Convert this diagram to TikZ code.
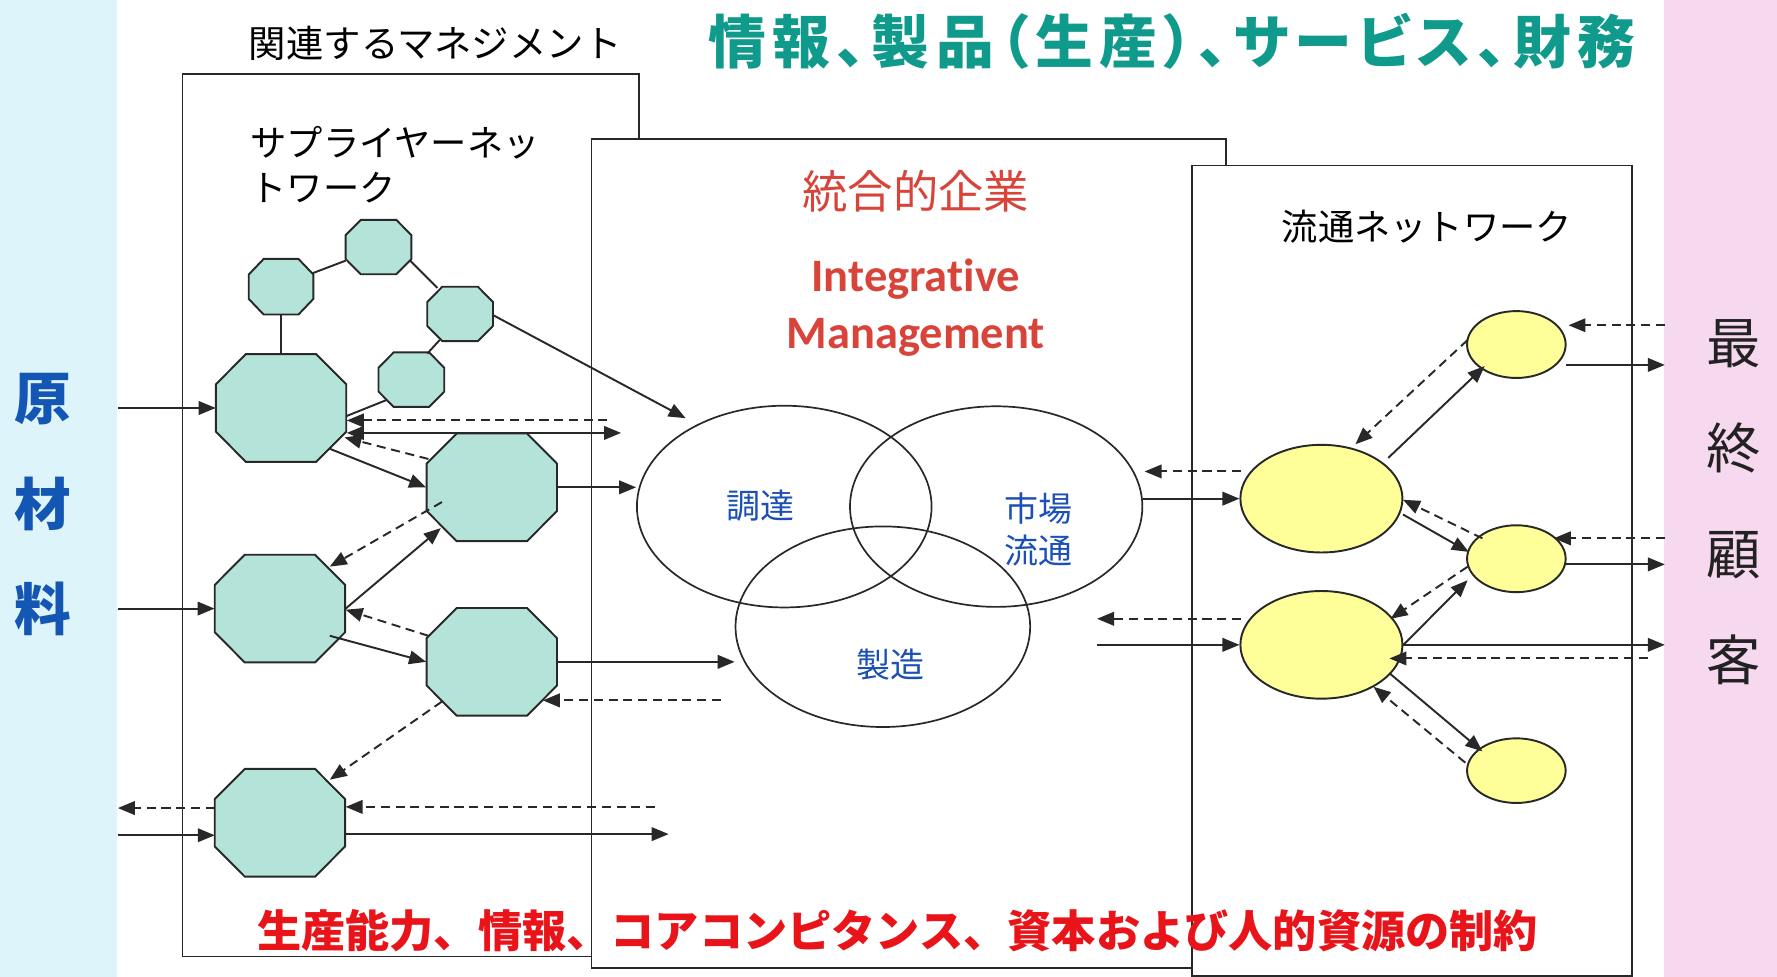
\documentclass[tikz,border=0pt]{standalone}
\usepackage{fontspec}
\setmainfont{Noto Sans CJK JP}
\newfontfamily\jp{Noto Sans CJK JP}
\newfontfamily\jpp{Noto Sans CJK JP}[RawFeature=+palt, LetterSpace=11]
\newfontfamily\latf{Carlito}[Ligatures=NoCommon]
\usetikzlibrary{arrows.meta,shapes.geometric,calc}
\definecolor{leftbg}{RGB}{221,244,251}
\definecolor{rightbg}{RGB}{247,217,239}
\definecolor{tealc}{RGB}{16,154,140}
\definecolor{redA}{RGB}{216,68,58}
\definecolor{redB}{RGB}{232,20,25}
\definecolor{blueV}{RGB}{28,80,180}
\definecolor{blueL}{RGB}{20,86,180}
\definecolor{octfill}{RGB}{180,227,218}
\definecolor{yelfill}{RGB}{255,255,153}
\definecolor{linec}{RGB}{40,40,40}
\definecolor{darktxt}{RGB}{34,34,34}
\tikzset{
  ln/.style={draw=linec, line width=1.7pt},
  arr/.style={ln, -{Triangle[length=15pt,width=12pt]}},
  darr/.style={arr, dash pattern=on 8pt off 5pt},
  dbl/.style={ln, {Triangle[length=15pt,width=12pt]}-{Triangle[length=15pt,width=12pt]}},
  oct/.style={fill=octfill, draw=linec, line width=1.7pt, line join=miter},
  octanchor/.style={ellipse, inner sep=0pt, draw=none},
  yel/.style={ellipse, inner sep=0pt, fill=yelfill, draw=linec, line width=1.7pt},
  venn/.style={ellipse, inner sep=0pt, draw=linec, line width=1.5pt},
  boxst/.style={draw=linec, line width=1.6pt, fill=white},
  jtxt/.style={inner sep=0pt, font=\jp\fontsize{#1}{#1}\selectfont},
}
\newcommand\octa[5]{%
  \node[octanchor, minimum width=#4pt, minimum height=#5pt] (#1) at (#2,#3) {};
  \draw[oct] ($(#1)+(-0.27*#4,-0.5*#5)$) -- ($(#1)+(0.27*#4,-0.5*#5)$)
    -- ($(#1)+(0.5*#4,-0.22*#5)$) -- ($(#1)+(0.5*#4,0.22*#5)$)
    -- ($(#1)+(0.27*#4,0.5*#5)$) -- ($(#1)+(-0.27*#4,0.5*#5)$)
    -- ($(#1)+(-0.5*#4,0.22*#5)$) -- ($(#1)+(-0.5*#4,-0.22*#5)$) -- cycle;
}
\begin{document}
\begin{tikzpicture}[x=1pt,y=-1pt]
\useasboundingbox (0,0) rectangle (1568,862);
\fill[white] (0,0) rectangle (1568,862);
\fill[leftbg] (0,0) rectangle (103,862);
\fill[rightbg] (1468,0) rectangle (1568,862);

% boxes
\path[boxst] (161,65) rectangle (564,844);
\path[boxst] (522,123) rectangle (1082,854);
\path[boxst] (1052,146) rectangle (1440,861);

% titles
\node[jtxt=33, text=black] (tMgmt) at (384,38) {関連するマネジメント};
\node[inner sep=0pt, text=tealc, font=\jpp\bfseries\fontsize{51}{51}\selectfont] (tFlow) at (1034,36) {情報、製品（生産）、サービス、財務};
\node[jtxt=32, anchor=west] (tSup1) at (221,126) {サプライヤーネッ};
\node[jtxt=32, anchor=west] (tSup2) at (221,166) {トワーク};
\node[jtxt=40, text=redA] (tEnt) at (808,169) {統合的企業};
\node[inner sep=0pt, text=redA, font=\latf\bfseries\fontsize{41}{41}\selectfont] (tInt) at (808,246) {Integrative};
\node[inner sep=0pt, text=redA, font=\latf\bfseries\fontsize{41}{41}\selectfont] (tMan) at (808,298) {Management};
\node[jtxt=32] (tDist) at (1259,200) {流通ネットワーク};

% side labels
\node[jtxt=50, text=blueL, font=\jp\bfseries\fontsize{50}{50}\selectfont] (r1) at (38,352) {原};
\node[jtxt=50, text=blueL, font=\jp\bfseries\fontsize{50}{50}\selectfont] (r2) at (38,445) {材};
\node[jtxt=50, text=blueL, font=\jp\bfseries\fontsize{50}{50}\selectfont] (r3) at (38,537) {料};
\node[jtxt=48, text=darktxt] (c1) at (1530,303) {最};
\node[jtxt=48, text=darktxt] (c2) at (1530,395) {終};
\node[jtxt=48, text=darktxt] (c3) at (1530,490) {顧};
\node[jtxt=48, text=darktxt] (c4) at (1530,582) {客};

% venn
\node[venn, minimum width=260pt, minimum height=178pt] (V1) at (692,447) {};
\node[venn, minimum width=258pt, minimum height=177pt] (V2) at (879,447) {};
\node[venn, minimum width=260pt, minimum height=177pt] (V3) at (779,553) {};
\node[jtxt=30, text=blueV] (vl1) at (671,446) {調達};
\node[jtxt=30, text=blueV] (vl2) at (916,449) {市場};
\node[jtxt=30, text=blueV] (vl3) at (916,486) {流通};
\node[jtxt=30, text=blueV] (vl4) at (786,586) {製造};

% octagons
\octa{O1}{248}{253}{57}{49}
\octa{O2}{334}{218}{58}{48}
\octa{O3}{406}{277}{58}{48}
\octa{O4}{363}{335}{58}{48}
\octa{L1}{248}{360}{115}{95}
\octa{L2}{434}{430}{115}{95}
\octa{L3}{247}{537}{115}{95}
\octa{L4}{434}{584}{115}{95}
\octa{L5}{247}{726}{115}{95}

% yellow
\node[yel, minimum width=143pt, minimum height=95pt] (Y1) at (1166,440) {};
\node[yel, minimum width=143pt, minimum height=95pt] (Y2) at (1166,569) {};
\node[yel, minimum width=87pt, minimum height=59pt] (Y3) at (1338,304) {};
\node[yel, minimum width=87pt, minimum height=59pt] (Y4) at (1338,493) {};
\node[yel, minimum width=87pt, minimum height=57pt] (Y5) at (1338,680) {};

% free ends
\coordinate (in1) at (104,360);
\coordinate (in2) at (104,537);
\coordinate (in3) at (104,737);
\coordinate (out3) at (104,713);
\coordinate (f1) at (536,371);
\coordinate (f2) at (548,382);
\coordinate (f3) at (636,618);
\coordinate (f5) at (578,712);
\coordinate (f6) at (590,736);
\coordinate (g1) at (1010,416);
\coordinate (g2) at (1469,287);
\coordinate (g3) at (1469,322);
\coordinate (g4) at (1469,475);
\coordinate (g5) at (1469,498);
\coordinate (g6) at (968,546);
\coordinate (g7) at (968,569);
\coordinate (g8) at (1469,569);
\coordinate (g9) at (1454,581);

% supplier network
\draw[ln] ($(O1)+(28,-12)$) -- ($(O2)+(-29,12)$);
\draw[ln] ($(O2)+(28,12)$) -- ($(O3)+(-20,-23)$);
\draw[ln] ($(O3)+(-18,23)$) -- ($(O4)+(14,-23)$);
\draw[ln] (O1.south) -- (L1.north);
\draw[ln] ($(O4)+(-22,18)$) -- ($(L1)+(58,7)$);
\draw[arr] ($(O3)+(29,1)$) -- ($(V1)+(-87,-78)$);
\draw[arr] (in1) -- (L1.west);
\draw[arr] (in2) -- (L3.west);
\draw[arr] (in3) -- ($(L5)+(-57.5,11)$);
\draw[darr] ($(L5)+(-57.5,-13)$) -- (out3);
\draw[darr] (f1) -- ($(L1)+(58,11)$);
\draw[dbl] ($(L1)+(58,22)$) -- (f2);
\draw[darr] ($(L2)+(-56,-25)$) -- ($(L1)+(56,26)$);
\draw[arr] ($(L1)+(43,36)$) -- ($(L2)+(-58,0)$);
\draw[arr] (L2.east) -- (L2.east -| V1.west);
\draw[darr] ($(L2)+(-44,13)$) -- ($(L3)+(44,-37)$);
\draw[arr] ($(L3)+(58,0)$) -- ($(L2)+(-45,36)$);
\draw[darr] ($(L4)+(-56,-23)$) -- ($(L3)+(58,1)$);
\draw[arr] ($(L3)+(44,24)$) -- ($(L4)+(-58,0)$);
\draw[arr] (L4.east) -- (L4.east -| V3.west);
\draw[darr] (f3) -- ($(L4)+(45,34)$);
\draw[darr] ($(L4)+(-44,35)$) -- ($(L5)+(44,-38)$);
\draw[darr] (f5) -- ($(L5)+(58,-14)$);
\draw[arr] ($(L5)+(58,10)$) -- (f6);

% distribution network
\draw[darr] ($(Y1)+(-71,-24)$) -- (g1);
\draw[arr] (Y1.west -| V2.east) -- (Y1.west);
\draw[arr] ($(Y1)+(59,-36)$) -- ($(Y3)+(-28,19)$);
\draw[darr] ($(Y3)+(-43,-4)$) -- ($(Y1)+(30,-48)$);
\draw[darr] (g2) -- ($(Y3)+(46,-17)$);
\draw[arr] ($(Y3)+(44,18)$) -- (g3);
\draw[darr] ($(Y4)+(-30,-18)$) -- ($(Y1)+(72,1)$);
\draw[arr] ($(Y1)+(72,14)$) -- ($(Y4)+(-42,-6)$);
\draw[darr] (g4) -- ($(Y4)+(33,-18)$);
\draw[arr] ($(Y4)+(44,5)$) -- (g5);
\draw[darr] ($(Y4)+(-43,7)$) -- ($(Y2)+(61,-23)$);
\draw[arr] (Y2.east) -- ($(Y4)+(-43,19)$);
\draw[darr] ($(Y2)+(-71,-23)$) -- (g6);
\draw[arr] (g7) -- (Y2.west);
\draw[arr] (Y2.east) -- (g8);
\draw[darr] (g9) -- ($(Y2)+(60,12)$);
\draw[arr] ($(Y2)+(60,25)$) -- ($(Y5)+(-30,-17)$);
\draw[darr] ($(Y5)+(-45,-7)$) -- ($(Y2)+(46,37)$);

% bottom constraint text
\node[jtxt=39, text=redB, font=\jp\bfseries\fontsize{39}{39}\selectfont] (tCons) at (792,821) {生産能力、情報、コアコンピタンス、資本および人的資源の制約};
\end{tikzpicture}
\end{document}
